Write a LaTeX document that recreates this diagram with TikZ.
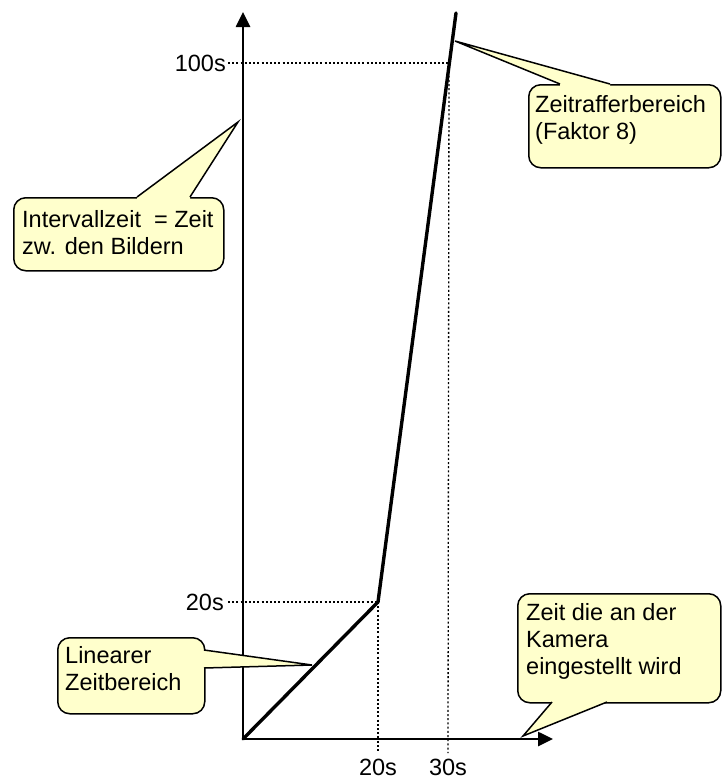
\documentclass[tikz,border=0pt]{standalone}
\usepackage{fontspec}
\setmainfont{Liberation Sans}
\usetikzlibrary{arrows.meta,calc}
\definecolor{calloutfill}{RGB}{255,255,204}
\begin{document}
\begin{tikzpicture}[x=1pt,y=-1pt,
  every node/.style={font=\fontsize{23.5}{27}\selectfont, inner sep=0pt},
  axis/.style={line width=2.6pt, -{Triangle[length=15pt,width=14pt]}},
  graphline/.style={line width=3.4pt, line cap=round, line join=round},
  guide/.style={line width=1.3pt, dash pattern=on 2pt off 2.2pt},
  cbox/.style={draw=black, fill=calloutfill, line width=1.5pt, rounded corners=12pt, anchor=north west},
  tailfill/.style={fill=calloutfill, draw=none},
  tailline/.style={draw=black, line width=1.5pt, line join=miter},
  txt/.style={anchor=north west, align=left}
]
\useasboundingbox (0,0) rectangle (722,780);

% key points
\coordinate (O) at (243,739);
\coordinate (K) at (378,602);
\coordinate (T) at (456,13);
\coordinate (Ytip) at (243,12);
\coordinate (Xtip) at (553,739);
\coordinate (H100) at (449,63);
\coordinate (B20) at (378,753);
\coordinate (B30) at (448,753);
\coordinate (L100) at (228,63);
\coordinate (L20) at (228,602);

% guide lines
\draw[guide] (L100) -- (H100);
\draw[guide] (H100) -- (B30);
\draw[guide] (L20) -- (K);
\draw[guide] (K) -- (B20);

% axes
\draw[axis] ($(O)+(0,1.3)$) -- (Ytip);
\draw[axis] ($(O)+(-1.3,0)$) -- (Xtip);

% graph
\draw[graphline] (O) -- (K) -- (T);

% axis labels
\node[anchor=base east] (l100) at (226,71) {100s};
\node[anchor=base east] (l20) at (224,610) {20s};
\node[anchor=base] (b20) at (378,775) {20s};
\node[anchor=base] (b30) at (448,775) {30s};

% callout 1
\node[cbox, minimum width=210pt, minimum height=73pt] (c1) at (13,197) {};
\coordinate (t1) at (238,122);
\fill[tailfill] (137,200) -- (137,197) -- (t1) -- (190,197) -- (190,200) -- cycle;
\draw[tailline] (137,197) -- (t1) -- (190,197);
\node[txt] (c1t) at (22,210) {Intervallzeit\ \ = Zeit\\zw. den Bildern};

% callout 2
\node[cbox, minimum width=192pt, minimum height=83pt] (c2) at (528,84) {};
\coordinate (t2) at (455,41);
\fill[tailfill] (560,87) -- (560,84) -- (t2) -- (610,84) -- (610,87) -- cycle;
\draw[tailline] (560,84) -- (t2) -- (610,84);
\node[txt] (c2t) at (535,95) {Zeitrafferbereich\\(Faktor 8)};

% callout 3
\node[cbox, minimum width=147pt, minimum height=76pt] (c3) at (57,637) {};
\coordinate (t3) at (312,665);
\fill[tailfill] (201,650) -- (204,650) -- (t3) -- (204,668) -- (201,668) -- cycle;
\draw[tailline] (204,650) -- (t3) -- (204,668);
\node[txt] (c3t) at (65,646) {Linearer\\Zeitbereich};

% callout 4
\node[cbox, minimum width=203pt, minimum height=109pt] (c4) at (517,593) {};
\coordinate (t4) at (523,736);
\fill[tailfill] (552,699) -- (552,702) -- (t4) -- (607,702) -- (607,699) -- cycle;
\draw[tailline] (552,702) -- (t4) -- (607,702);
\node[txt] (c4t) at (526,603) {Zeit die an der\\Kamera\\eingestellt wird};
\end{tikzpicture}
\end{document}
